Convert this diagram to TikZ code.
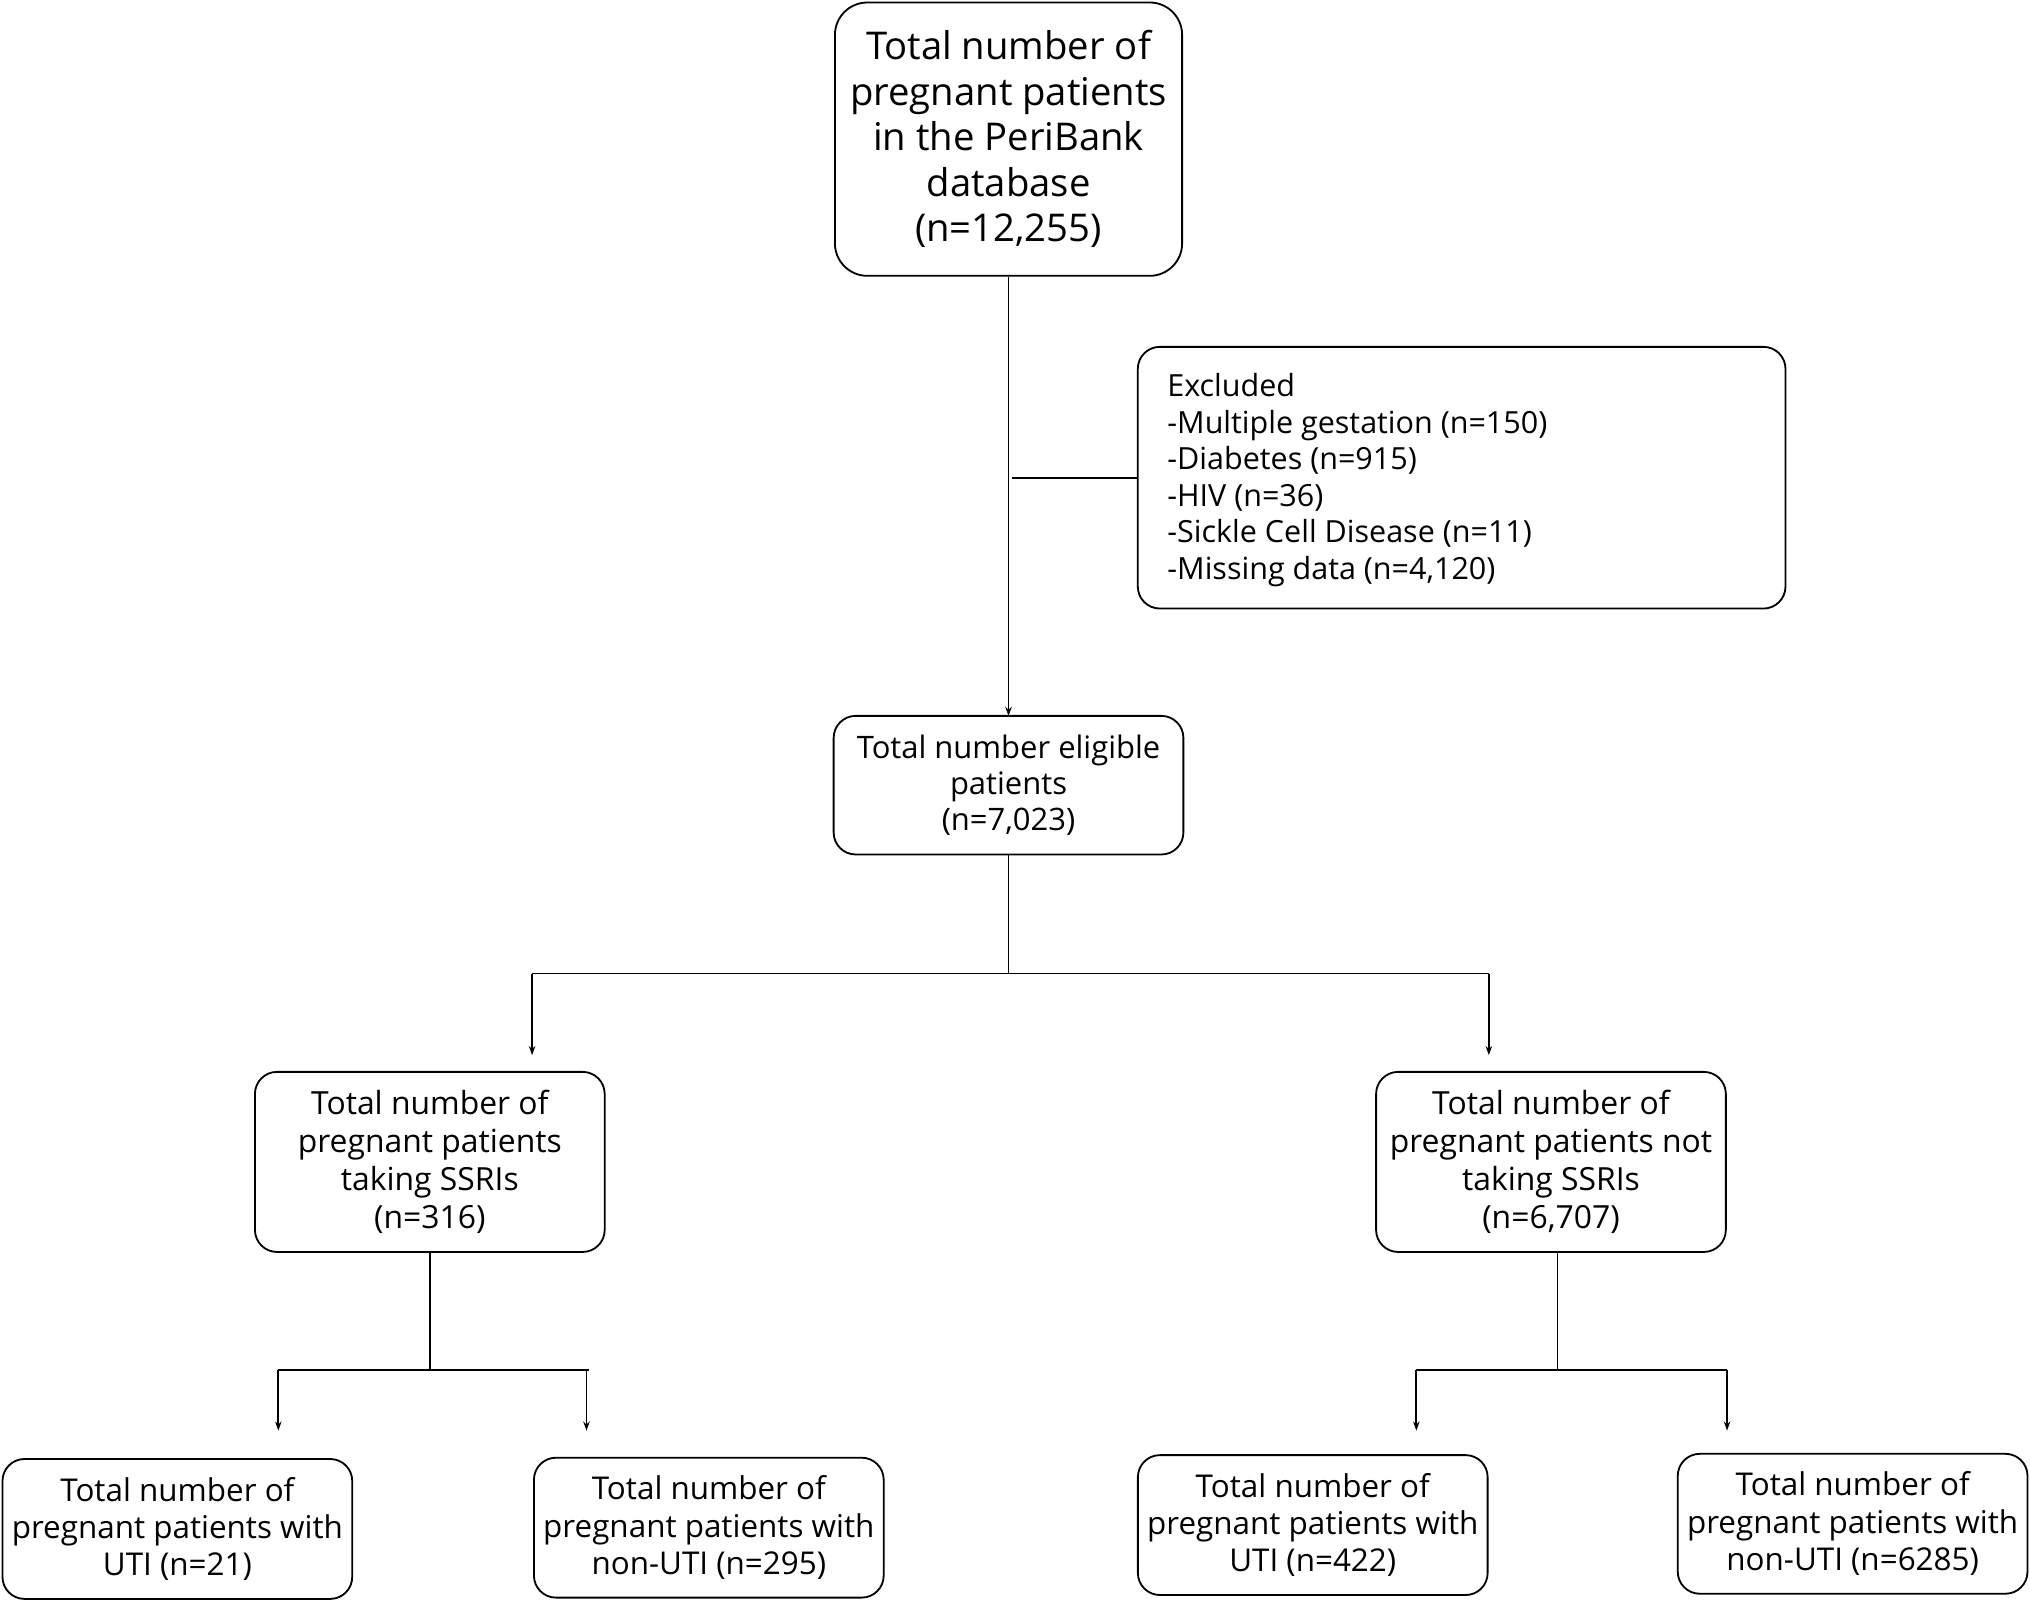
\documentclass[tikz,border=0pt]{standalone}
\usepackage{fontspec}
\setmainfont{Open Sans}
\usetikzlibrary{arrows.meta}
\begin{document}
\begin{tikzpicture}[x=0.01cm,y=-0.01cm,
 box/.style={draw,rounded corners=0.17cm,line width=0.4pt,align=center,inner sep=0pt},
 ln/.style={line width=0.4pt},
 ar/.style={ln,-{Stealth[length=0.07cm,width=0.05cm]}}]
\useasboundingbox (0,0) rectangle (1568,1237);
\node[box,rounded corners=0.25cm,minimum width=268\pgflinewidth*0+2.68cm,minimum height=2.11cm,font=\fontsize{8.4}{10}\selectfont] (top) at (779,107.5)
 {Total number of\\pregnant patients\\in the PeriBank\\database\\(n=12,255)};
\node[box,minimum width=5cm,minimum height=2.02cm] (exc) at (1129,369) {};
\node[anchor=north west,align=left,inner sep=0pt,font=\fontsize{6.7}{8}\selectfont] (exct) at (901,288)
 {Excluded\\-Multiple gestation (n=150)\\-Diabetes (n=915)\\-HIV (n=36)\\-Sickle Cell Disease (n=11)\\-Missing data (n=4,120)};
\node[box,minimum width=2.7cm,minimum height=1.07cm,font=\fontsize{6.8}{8}\selectfont] (elig) at (779,606.5)
 {Total number eligible\\patients\\(n=7,023)};
\node[box,minimum width=2.7cm,minimum height=1.39cm,font=\fontsize{7}{8.3}\selectfont] (lm) at (332,897.5)
 {Total number of\\pregnant patients\\taking SSRIs\\(n=316)};
\node[box,minimum width=2.7cm,minimum height=1.39cm,font=\fontsize{7}{8.3}\selectfont] (rm) at (1198,897.5)
 {Total number of\\pregnant patients not\\taking SSRIs\\(n=6,707)};
\tikzset{bb/.style={box,minimum width=2.7cm,minimum height=1.08cm,font=\fontsize{6.9}{8.2}\selectfont}}
\node[bb] (b1) at (137,1181) {Total number of\\pregnant patients with\\UTI (n=21)};
\node[bb] (b2) at (547.5,1180) {Total number of\\pregnant patients with\\non-UTI (n=295)};
\node[bb] (b3) at (1014,1178) {Total number of\\pregnant patients with\\UTI (n=422)};
\node[bb] (b4) at (1431,1177) {Total number of\\pregnant patients with\\non-UTI (n=6285)};
% connectors
\coordinate (a0) at (779,553);
\draw[ar] (top.south) -- (a0);
\coordinate (e0) at (782,369);
\draw[ln] (e0) -- (exc.west);
\coordinate (j1) at (779,752);
\coordinate (j1l) at (411,752); \coordinate (j1r) at (1150,752);
\coordinate (t1l) at (411,815); \coordinate (t1r) at (1150,815);
\draw[ln] (elig.south) -- (j1);
\draw[ln] (j1l) -- (j1r);
\draw[ar] (j1l) -- (t1l);
\draw[ar] (j1r) -- (t1r);
\coordinate (j2) at (332,1058);
\coordinate (j2l) at (215,1058); \coordinate (j2r) at (455,1058);
\coordinate (t2l) at (215,1105); \coordinate (t2r) at (453,1105); \coordinate (s2r) at (453,1058);
\draw[ln] (lm.south) -- (j2);
\draw[ln] (j2l) -- (j2r);
\draw[ar] (j2l) -- (t2l);
\draw[ar] (s2r) -- (t2r);
\coordinate (j3) at (1203,1058); \coordinate (rs) at (1203,967);
\coordinate (j3l) at (1094,1058); \coordinate (j3r) at (1334,1058);
\coordinate (t3l) at (1094,1105); \coordinate (t3r) at (1334,1105);
\draw[ln] (rs) -- (j3);
\draw[ln] (j3l) -- (j3r);
\draw[ar] (j3l) -- (t3l);
\draw[ar] (j3r) -- (t3r);
\end{tikzpicture}
\end{document}
